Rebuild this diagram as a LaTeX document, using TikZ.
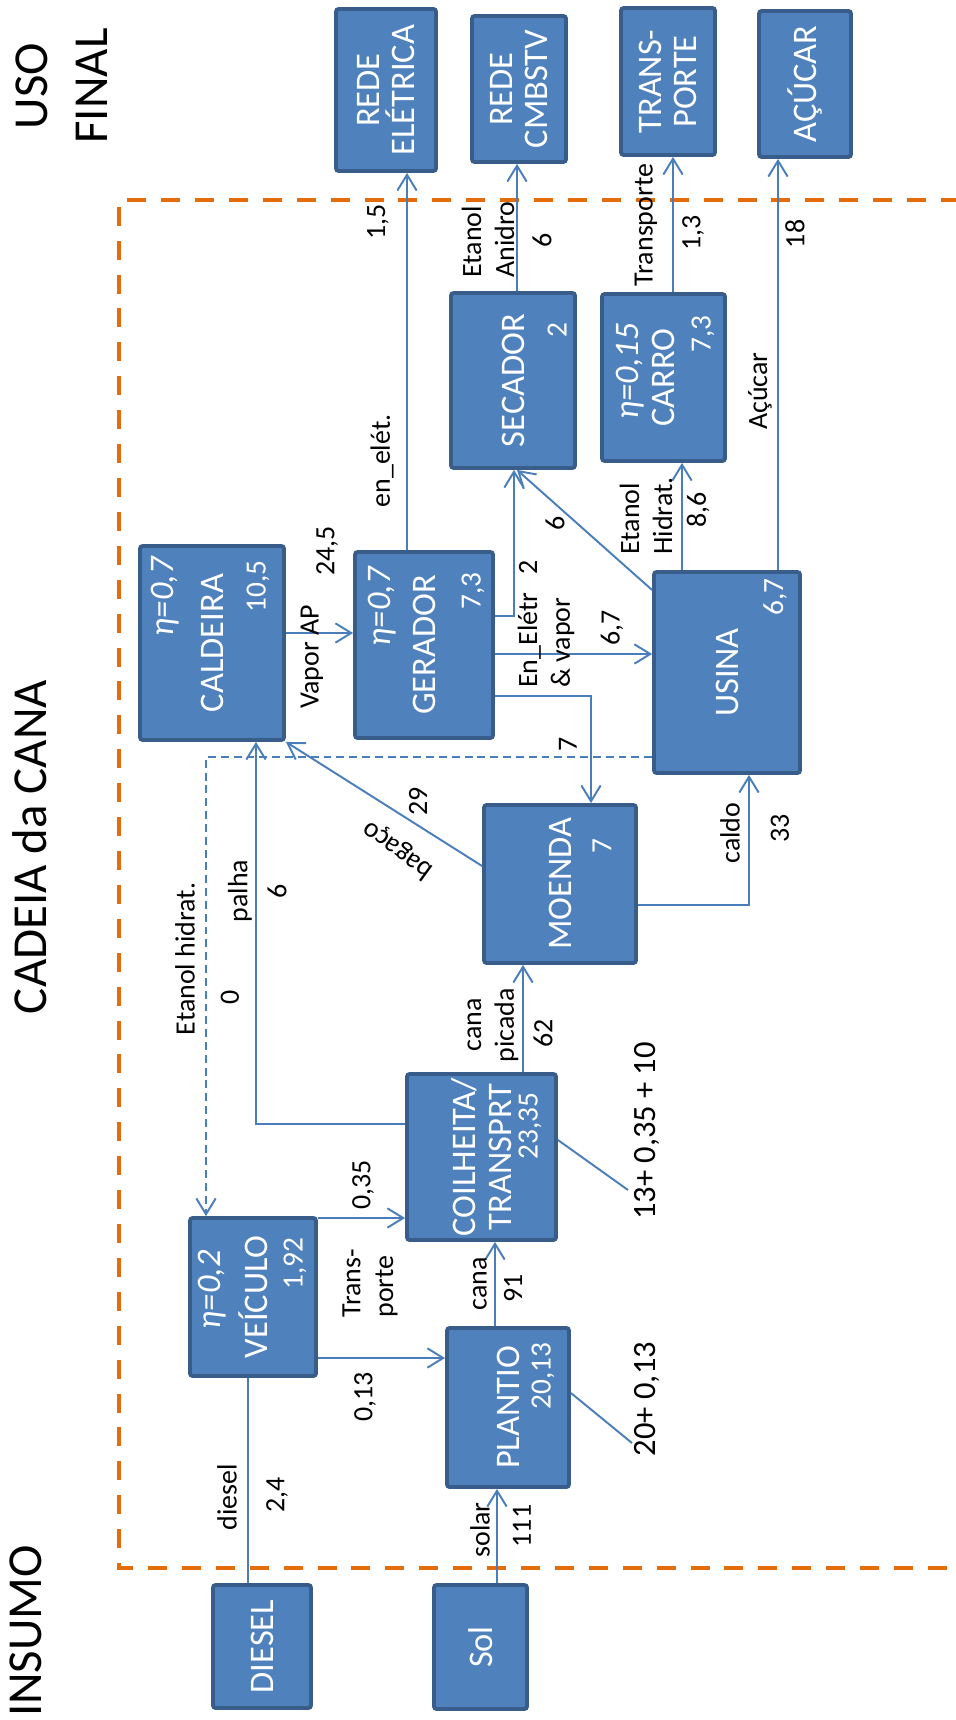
\documentclass[tikz,border=0pt]{standalone}
\usepackage{fontspec}
\setmainfont{Carlito}
\usepackage{tikz}
\usetikzlibrary{arrows.meta}
\definecolor{BoxBlue}{HTML}{4F81BD}
\definecolor{BoxEdge}{HTML}{385D8A}
\definecolor{FlowBlue}{HTML}{4A7EBB}
\definecolor{ChainOrange}{HTML}{E46C0A}

\begin{document}
\begin{tikzpicture}[x=0.02cm, y=-0.02cm,
  box/.style={draw=BoxEdge, line width=2.2pt, fill=BoxBlue, rounded corners=1.5pt, rotate=90, inner sep=0pt, align=center, text=white, font=\fontsize{19.6}{20.4}\selectfont},
  boxnum/.style={rotate=90, inner sep=0pt, text=white, anchor=east, font=\fontsize{16.7}{18}\selectfont},
  boxeta/.style={rotate=90, inner sep=0pt, text=white, anchor=east, font=\fontsize{19.6}{20}\selectfont\itshape},
  lbl/.style={inner sep=0pt, font=\fontsize{15.9}{18.7}\selectfont},
  vlbl/.style={lbl, rotate=90},
  sumlbl/.style={vlbl, font=\fontsize{18.5}{21}\selectfont},
  headtxt/.style={rotate=90, inner sep=0pt, align=center, font=\fontsize{27.8}{34}\selectfont},
  flow/.style={draw=FlowBlue, line width=1.1pt, -{Straight Barb[length=9pt,width=11pt]}},
  link/.style={draw=FlowBlue, line width=1.1pt},
  bnd/.style={draw=ChainOrange, line width=2.5pt, dash pattern=on 10.8pt off 8.5pt},
]
\useasboundingbox (0,0) rectangle (956,1720);

% --- titles ---
\node[headtxt] (uso) at (62,86) {USO\\FINAL};
\node[headtxt] (cadeia) at (30,847) {CADEIA da CANA};
\node[headtxt] (insumo) at (26,1631) {INSUMO};

% --- chain border ---
\draw[bnd] (960,200) -- (119,200) -- (119,1568) -- (960,1568);

% --- final use ---
\node[box, minimum width=3.24cm, minimum height=2.0cm] (rede) at (386,90) {REDE\\ELÉTRICA};
\node[box, minimum width=2.92cm, minimum height=1.88cm] (cmb) at (519,89) {REDE\\CMBSTV};
\node[box, minimum width=2.94cm, minimum height=1.88cm] (transp) at (668,81.5) {TRANS-\\PORTE};
\node[box, minimum width=2.92cm, minimum height=1.84cm] (acucar) at (805,84) {AÇÚCAR};

% --- chain ---
\node[box, minimum width=3.5cm, minimum height=2.48cm] (sec) at (513,380.5) {SECADOR};
\node[box, minimum width=3.34cm, minimum height=2.46cm] (carro) at (663.5,377.5) {CARRO};
\node[box, minimum width=3.88cm, minimum height=2.88cm] (cald) at (212,643) {CALDEIRA};
\node[box, minimum width=3.72cm, minimum height=2.76cm] (ger) at (424,645) {GERADOR};
\node[box, minimum width=4.02cm, minimum height=2.92cm] (usina) at (727,672.5) {USINA};
\node[box, minimum width=3.16cm, minimum height=3.04cm] (moenda) at (560,884) {MOENDA};
\node[box, minimum width=3.32cm, minimum height=2.98cm] (colh) at (481.5,1157) {COILHEITA/\\TRANSPRT};
\node[box, minimum width=3.16cm, minimum height=2.52cm] (veic) at (253,1297) {VEÍCULO};
\node[box, minimum width=3.18cm, minimum height=2.44cm] (plant) at (508,1407.5) {PLANTIO};

% --- inputs ---
\node[box, minimum width=2.46cm, minimum height=1.96cm] (diesel) at (262,1646.5) {DIESEL};
\node[box, minimum width=2.48cm, minimum height=1.86cm] (sol) at (480.5,1647) {Sol};

% --- efficiencies and values in the boxes ---
\node[boxeta] (cald-eta) at (165,557) {η=0,7};
\node[boxnum] (cald-val) at (258,560) {10,5};
\node[boxeta] (ger-eta) at (382,567) {η=0,7};
\node[boxnum] (ger-val) at (473,572) {7,3};
\node[boxeta] (carro-eta) at (630,323) {η=0,15};
\node[boxnum] (carro-val) at (703,315) {7,3};
\node[boxeta] (veic-eta) at (212,1250) {η=0,2};
\node[boxnum] (veic-val) at (295,1237) {1,92};
\node[boxnum] (sec-val) at (557,322) {2};
\node[boxnum] (usina-val) at (775,578) {6,7};
\node[boxnum] (moenda-val) at (602,838) {7};
\node[boxnum] (colh-val) at (530,1092) {23,35};
\node[boxnum] (plant-val) at (543,1342) {20,13};

% --- flows ---
\draw[flow] (407,0 |- ger.east) -- (407,0 |- rede.west);
\draw[flow] (517,0 |- sec.east) -- (517,0 |- cmb.west);
\draw[flow] (673,0 |- carro.east) -- (673,0 |- transp.west);
\draw[flow] (778,0 |- usina.east) -- (778,0 |- acucar.west);
\draw[flow] (682,0 |- usina.east) -- (682,0 |- carro.west);
\draw[flow] (usina.north |- 0,590) -- (517,0 |- sec.west);
\draw[flow] (ger.south |- 0,616) -| (514,0 |- sec.west);
\draw[flow] (ger.south |- 0,654) -- (usina.north |- 0,654);
\draw[flow] (ger.south |- 0,696) -| (591,0 |- moenda.east);
\draw[flow] (cald.south |- 0,633) -- (ger.north |- 0,633);
\draw[flow] (moenda.north |- 0,866) -- (cald.south west);
\draw[flow] (colh.north |- 0,1124) -| (256,0 |- cald.west);
\draw[flow, dash pattern=on 4.5pt off 2.8pt] (usina.north |- 0,757) -| (206,0 |- veic.east);
\draw[flow] (moenda.south |- 0,905) -| (749,0 |- usina.west);
\draw[flow] (523,0 |- colh.east) -- (523,0 |- moenda.west);
\draw[flow] (495,0 |- plant.east) -- (495,0 |- colh.west);
\draw[flow] (497,0 |- sol.east) -- (497,0 |- plant.west);
\draw[link] (248,0 |- diesel.east) -- (248,0 |- veic.west);
\draw[flow] (veic.south |- 0,1218) -- (colh.north |- 0,1218);
\draw[flow] (veic.south |- 0,1358) -- (plant.north |- 0,1358);

% --- flow labels ---
\node[vlbl] (l-rede) at (378,222) {1,5};
\node[vlbl] (l-enel) at (382,461) {en\_elét.};
\node[vlbl, align=left, anchor=west] (l-anid) at (488,278) {Etanol\\Anidro};
\node[vlbl] (l-anidv) at (542,240) {6};
\node[vlbl] (l-transp) at (646,225) {Transporte};
\node[vlbl] (l-transpv) at (693,233) {1,3};
\node[vlbl] (l-acuc) at (760,391) {Açúcar};
\node[vlbl] (l-acucv) at (795,234) {18};
\node[vlbl] (l-vap) at (312,657) {Vapor AP};
\node[vlbl] (l-vapv) at (327,551) {24,5};
\node[vlbl] (l-bagv) at (418,801) {29};
\node[lbl, rotate=144] (l-bag) at (398,850) {bagaço};
\node[vlbl, align=left, anchor=west] (l-enelv) at (546,688) {En\_Elétr\\\& vapor};
\node[vlbl] (l-secv) at (528,567) {2};
\node[vlbl] (l-usv) at (612,628) {6,7};
\node[vlbl] (l-moev) at (568,744) {7};
\node[vlbl] (l-ussec) at (555,523) {6};
\node[vlbl, align=left, anchor=west] (l-hid) at (646,555) {Etanol\\Hidrat.};
\node[vlbl] (l-hidv) at (698,510) {8,6};
\node[vlbl] (l-caldo) at (730,833) {caldo};
\node[vlbl] (l-caldov) at (780,828) {33};
\node[vlbl] (l-ehid) at (185,959) {Etanol hidrat.};
\node[vlbl] (l-ehidv) at (230,997) {0};
\node[vlbl] (l-palha) at (240,891) {palha};
\node[vlbl] (l-palhav) at (277,891) {6};
\node[vlbl, align=center] (l-pic) at (493,1025) {cana\\picada};
\node[vlbl] (l-picv) at (543,1033) {62};
\node[vlbl] (l-vcol) at (363,1185) {0,35};
\node[vlbl, align=left, anchor=west] (l-trans) at (370,1318) {Trans-\\porte};
\node[vlbl] (l-vpl) at (365,1397) {0,13};
\node[vlbl] (l-cana) at (480,1284) {cana};
\node[vlbl] (l-canav) at (513,1288) {91};
\node[vlbl] (l-dies) at (227,1497) {diesel};
\node[vlbl] (l-diesv) at (277,1495) {2,4};
\node[vlbl] (l-sol) at (480,1530) {solar};
\node[vlbl] (l-solv) at (522,1526) {111};

% --- sums ---
\node[sumlbl] (csum) at (647,1131) {13+ 0,35 + 10};
\node[sumlbl] (psum) at (647,1399) {20+ 0,13};
\coordinate (csum-end) at (628,1190);
\coordinate (psum-end) at (632,1443);
\draw[link] (colh.south |- 0,1140) -- (csum-end);
\draw[link] (plant.south |- 0,1393) -- (psum-end);

\end{tikzpicture}
\end{document}
